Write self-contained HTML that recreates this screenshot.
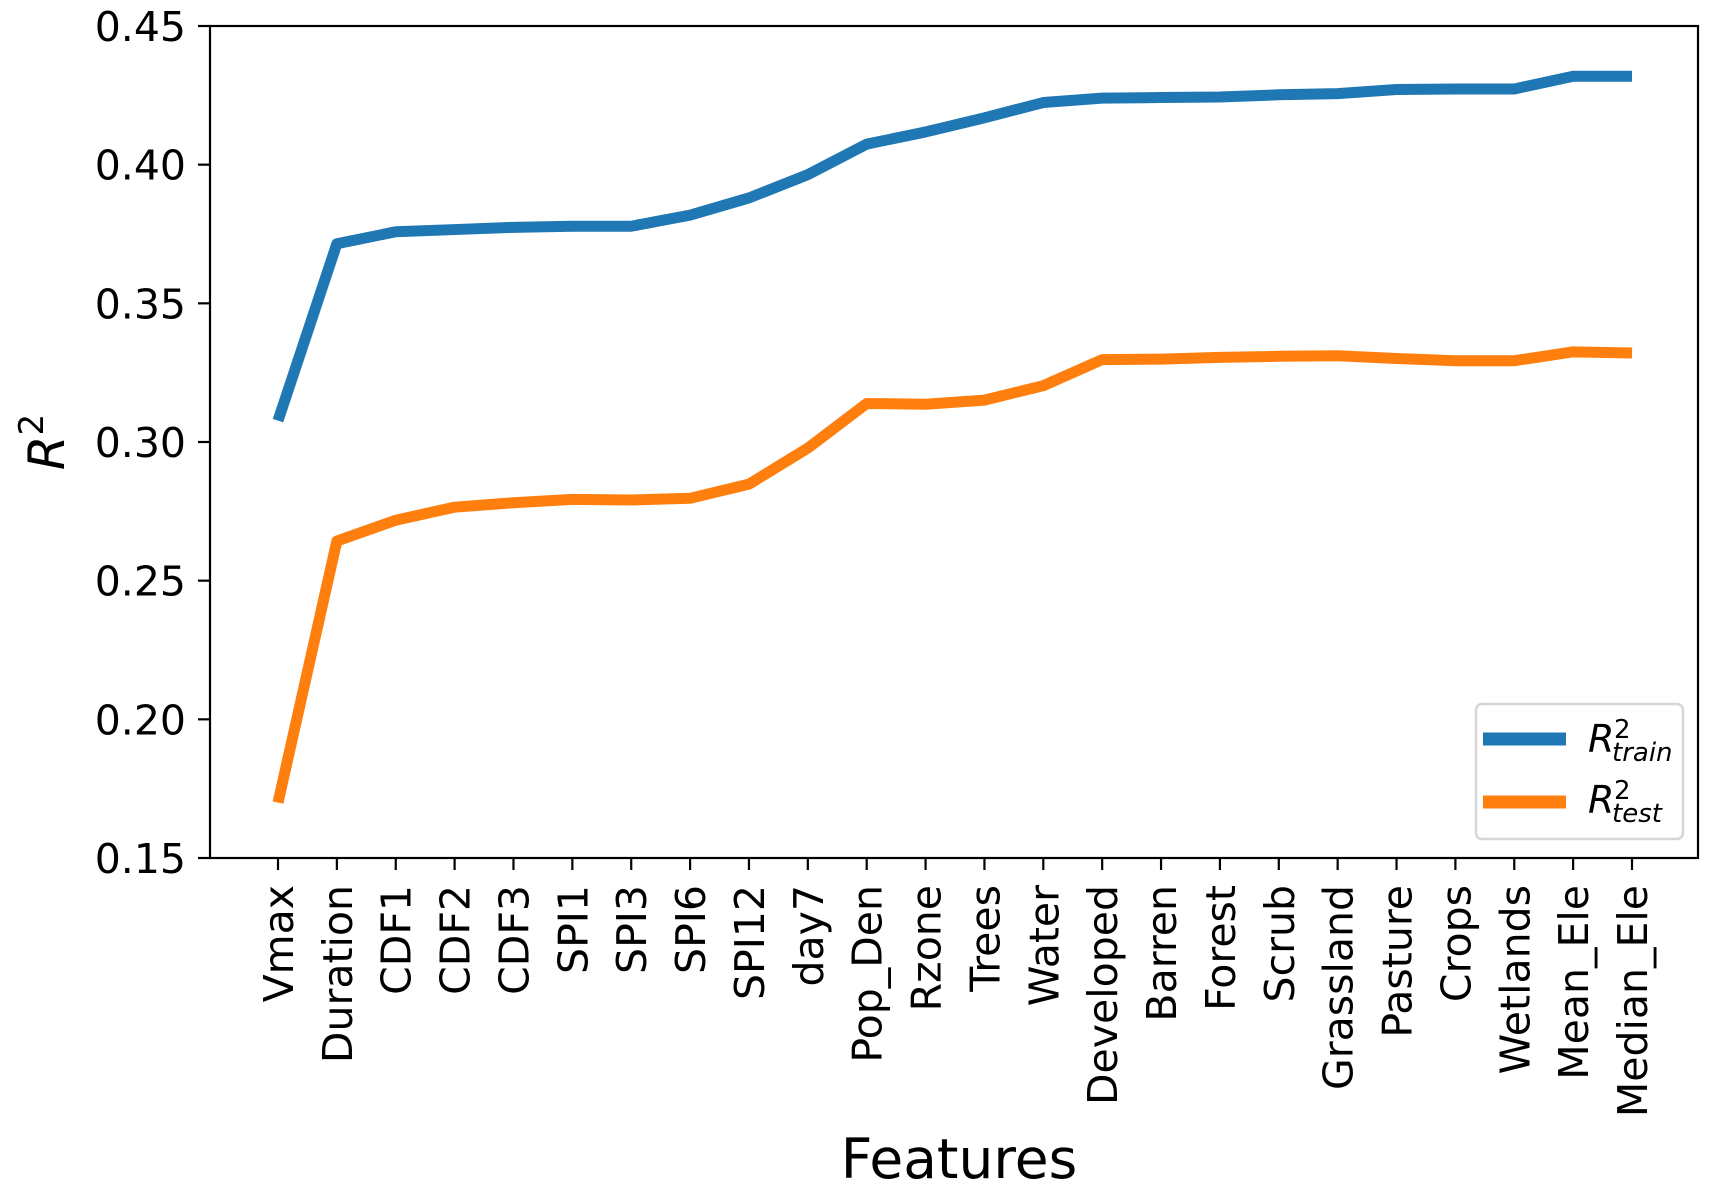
<!DOCTYPE html>
<html><head><meta charset="utf-8"><style>
html,body{margin:0;padding:0;background:#fff;}
svg{display:block;font-family:"DejaVu Sans","Liberation Sans",sans-serif;}
</style></head><body>
<svg id="s" width="1716" height="1186" viewBox="0 0 1716 1186" xmlns="http://www.w3.org/2000/svg">
<rect width="1716" height="1186" fill="#fff"/>
<g id="plot"></g>
<rect x="210" y="26" width="1488" height="832" fill="none" stroke="#000" stroke-width="2.2"/>
<g id="ticks" font-size="41" fill="#000"></g>
<text x="959" y="1178" font-size="55" text-anchor="middle">Features</text>
<g transform="translate(64,442) rotate(-90)"><text font-size="50" text-anchor="middle" font-style="italic">R<tspan font-style="normal" font-size="34" dy="-21">2</tspan></text></g>
<rect x="1476" y="704" width="207" height="135" rx="6" fill="#fff" fill-opacity="0.8" stroke="#d6d6d6" stroke-width="2.5"/>
<line x1="1483" y1="739" x2="1566" y2="739" stroke="#1f77b4" stroke-width="13"/>
<line x1="1483" y1="802" x2="1566" y2="802" stroke="#ff7f0e" stroke-width="13"/>
<text x="1588" y="752" font-size="38" font-style="italic">R</text>
<text x="1614" y="738" font-size="26">2</text>
<text x="1612" y="761" font-size="26" font-style="italic">train</text>
<text x="1588" y="813" font-size="38" font-style="italic">R</text>
<text x="1614" y="799" font-size="26">2</text>
<text x="1612" y="822" font-size="26" font-style="italic">test</text>
</svg>
<script>
var labels=["Vmax","Duration","CDF1","CDF2","CDF3","SPI1","SPI3","SPI6","SPI12","day7","Pop_Den","Rzone","Trees","Water","Developed","Barren","Forest","Scrub","Grassland","Pasture","Crops","Wetlands","Mean_Ele","Median_Ele"];
var tr=[0.3077,0.3715,0.3758,0.3766,0.3774,0.3778,0.3778,0.3818,0.388,0.3964,0.4074,0.4118,0.4169,0.4224,0.424,0.4242,0.4244,0.4252,0.4256,0.4271,0.4273,0.4273,0.4319,0.4319];
var te=[0.170,0.2643,0.2718,0.2765,0.2781,0.2793,0.2791,0.2797,0.2848,0.2978,0.3139,0.3136,0.3151,0.3203,0.3297,0.3299,0.3305,0.3309,0.3311,0.3301,0.3293,0.3293,0.3325,0.3321];
function X(i){return 278+i*58.87;}
function Y(v){return 858-(v-0.15)/0.30*832;}
var ns="http://www.w3.org/2000/svg";
var plot=document.getElementById("plot"),tk=document.getElementById("ticks");
function line(d,c){var p=document.createElementNS(ns,"polyline");p.setAttribute("points",d.map(function(v,i){return X(i)+","+Y(v)}).join(" "));p.setAttribute("fill","none");p.setAttribute("stroke",c);p.setAttribute("stroke-width","11");p.setAttribute("stroke-linejoin","round");plot.appendChild(p);}
line(tr,"#1f77b4");line(te,"#ff7f0e");
function el(n,a){var e=document.createElementNS(ns,n);for(var k in a)e.setAttribute(k,a[k]);return e;}
for(var j=0;j<7;j++){var v=0.15+j*0.05,y=Y(v);
tk.appendChild(el("line",{x1:198,x2:210,y1:y,y2:y,stroke:"#000","stroke-width":2.2}));
var t=el("text",{x:186,y:y+15,"text-anchor":"end"});t.textContent=v.toFixed(2);tk.appendChild(t);}
labels.forEach(function(l,i){var x=X(i);
tk.appendChild(el("line",{x1:x,x2:x,y1:858,y2:870,stroke:"#000","stroke-width":2.2}));
var g=el("g",{transform:"translate("+(x+15)+",885) rotate(-90)"});var t=el("text",{x:0,y:0,"text-anchor":"end"});t.textContent=l;g.appendChild(t);tk.appendChild(g);});
</script>
</body></html>
